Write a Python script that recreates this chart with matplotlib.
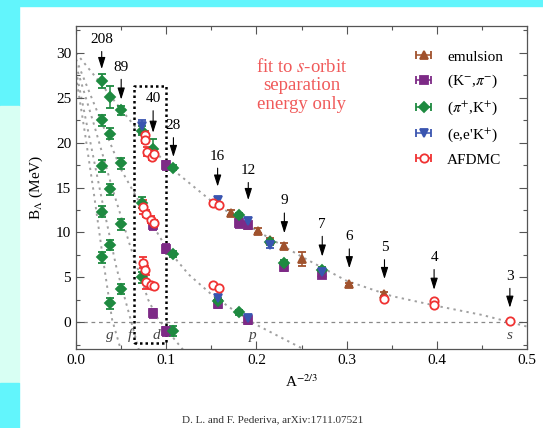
import numpy as np
import matplotlib
matplotlib.use("Agg")
import matplotlib.pyplot as plt
from matplotlib.patches import Rectangle

plt.rcParams["font.family"] = ["Liberation Serif", "DejaVu Serif"]
plt.rcParams["mathtext.fontset"] = "stix"

# ---- data ----
emul_x = [0.172, 0.191, 0.202, 0.215, 0.231, 0.250, 0.273, 0.303, 0.342]
emul_y = [12.2, 10.8, 10.2, 9.1, 8.5, 7.0, 5.5, 4.2, 3.1]
emul_e = [0.3, 0.3, 0.3, 0.3, 0.3, 0.8, 0.3, 0.2, 0.2]

kpi_x = [0.0997, 0.0997, 0.0997, 0.0855, 0.0855, 0.157, 0.181, 0.191, 0.191, 0.231, 0.273]
kpi_y = [17.5, 8.2, -1.0, 1.0, 10.8, 2.0, 11.0, 10.8, 0.2, 6.1, 5.3]
kpi_e = [0.5, 0.5, 0.5, 0.5, 0.5, 0.4, 0.5, 0.4, 0.4, 0.4, 0.4]

pik_x = [0.0285, 0.0285, 0.0285, 0.0285, 0.0285,
         0.0373, 0.0373, 0.0373, 0.0373, 0.0373,
         0.0501, 0.0501, 0.0501, 0.0501,
         0.0728, 0.0728, 0.0728, 0.0855,
         0.108, 0.108, 0.108, 0.157, 0.181, 0.181, 0.215, 0.231, 0.273]
pik_y = [26.9, 22.5, 17.4, 12.3, 7.2,
         25.1, 21.0, 14.8, 8.6, 2.1,
         23.6, 17.7, 10.9, 3.7,
         21.3, 13.3, 5.0, 19.3,
         17.2, 7.6, -1.0, 2.4, 11.9, 1.1, 8.9, 6.6, 5.8]
pik_e = [0.8, 0.6, 0.7, 0.6, 0.6,
         1.2, 0.6, 0.6, 0.6, 0.6,
         0.5, 0.6, 0.6, 0.6,
         0.5, 0.6, 0.6, 1.1,
         0.3, 0.3, 0.6, 0.3, 0.3, 0.3, 0.3, 0.3, 0.3]

eek_x = [0.0728, 0.157, 0.157, 0.191, 0.191, 0.215, 0.273]
eek_y = [21.8, 13.6, 2.7, 11.3, 0.5, 8.6, 5.6]
eek_e = [0.7, 0.3, 0.3, 0.3, 0.3, 0.3, 0.3]

afd_x = [0.076, 0.076, 0.079, 0.084, 0.087,
         0.074, 0.078, 0.083, 0.086,
         0.0746, 0.076, 0.078, 0.083, 0.086,
         0.152, 0.158, 0.152, 0.158,
         0.342, 0.397, 0.397, 0.481]
afd_y = [20.9, 20.3, 19.0, 18.4, 18.7,
         12.8, 12.1, 11.4, 11.0,
         6.6, 5.8, 4.5, 4.1, 4.0,
         13.3, 13.0, 4.1, 3.8,
         2.6, 2.3, 1.9, 0.15]
afd_e = [0.4, 0.3, 0.5, 0.3, 0.3,
         0.8, 0.4, 0.4, 0.4,
         0.6, 0.4, 0.8, 0.3, 0.3,
         0.2, 0.2, 0.2, 0.2,
         0.1, 0.1, 0.1, 0.05]

# fitted curves
s_x = [0.0, 0.025, 0.05, 0.075, 0.1, 0.15, 0.2, 0.25, 0.3, 0.35, 0.4, 0.45, 0.5]
s_y = [30.0, 26.9, 23.7, 20.6, 17.6, 13.5, 10.2, 7.3, 4.6, 2.9, 1.8, 0.8, -0.5]
p_x = [0.0, 0.025, 0.05, 0.075, 0.1, 0.125, 0.15, 0.175, 0.2, 0.225, 0.25, 0.26]
p_y = [29.3, 23.1, 17.0, 12.5, 8.3, 5.3, 3.1, 1.3, -0.3, -1.6, -2.9, -3.4]
d_x = [0.0, 0.02, 0.04, 0.06, 0.08, 0.09, 0.1, 0.118, 0.125]
d_y = [28.6, 22.0, 15.0, 8.5, 2.5, 0.5, -0.8, -3.0, -3.8]
f_x = [0.0, 0.015, 0.03, 0.045, 0.06, 0.07]
f_y = [28.0, 20.5, 13.0, 6.0, 0.5, -3.2]
g_x = [0.0, 0.01, 0.02, 0.03, 0.04, 0.05]
g_y = [27.4, 21.0, 14.2, 7.0, 0.3, -3.2]
fit_x = [s_x, p_x, d_x, f_x, g_x]
fit_y = [s_y, p_y, d_y, f_y, g_y]
shell_names = ["s", "p", "d", "f", "g"]
shell_pos = [0.481, 0.196, 0.089, 0.060, 0.038]

nuc_labels = ["208", "89", "40", "28", "16", "12", "9", "7", "6", "5", "4", "3"]
nuc_x = [0.0285, 0.0501, 0.0855, 0.108, 0.157, 0.191, 0.231, 0.273, 0.303, 0.342, 0.397, 0.481]
nuc_label_y = [31.5, 28.4, 24.9, 21.9, 18.5, 16.9, 13.5, 10.9, 9.5, 8.3, 7.2, 5.1]
nuc_tip_y = [28.2, 24.8, 21.1, 18.4, 15.1, 13.6, 9.9, 7.3, 6.0, 4.8, 3.6, 1.6]

# ---- figure ----
fig = plt.figure(figsize=(5.43, 4.28), dpi=100)
fig.patches.append(Rectangle((0, 1 - 6 / 428), 1, 6 / 428, transform=fig.transFigure,
                             color="#62f5fc", zorder=0))
fig.patches.append(Rectangle((0, 1 - 106 / 428), 19 / 543, 106 / 428, transform=fig.transFigure,
                             color="#62f5fc", zorder=0))
fig.patches.append(Rectangle((0, 45 / 428), 19 / 543, 277 / 428, transform=fig.transFigure,
                             color="#d8fff3", zorder=0))
fig.patches.append(Rectangle((0, 0), 19 / 543, 45 / 428, transform=fig.transFigure,
                             color="#62f5fc", zorder=0))

ax = fig.add_axes([76 / 543, 1 - 349 / 428, 451 / 543, 323 / 428])

for xs, ys in zip(fit_x, fit_y):
    ax.plot(xs, ys, color="#a0a0a0", ls=(0, (1.2, 2.2)), lw=1.4, zorder=1)
ax.axhline(0, color="#888888", ls=(0, (3, 3)), lw=0.9, zorder=1)

# dotted box around A=40
ax.plot([0.0643, 0.0997, 0.0997, 0.0643, 0.0643], [-2.3, -2.3, 26.3, 26.3, -2.3],
        color="black", ls=(0, (1, 1.2)), lw=1.8, zorder=2)

series = [
    (emul_x, emul_y, emul_e, "^", "#a0522d", "full", "emulsion"),
    (kpi_x, kpi_y, kpi_e, "s", "#7d2a86", "full", r"(K$^{-}$,$\pi^{-}$)"),
    (pik_x, pik_y, pik_e, "D", "#1e8a40", "full", r"($\pi^{+}$,K$^{+}$)"),
    (eek_x, eek_y, eek_e, "v", "#3a55b0", "full", r"(e,e'K$^{+}$)"),
    (afd_x, afd_y, afd_e, "o", "#f03232", "none", "AFDMC"),
]
handles = []
for xs, ys, es, mk, col, fill, lab in series:
    ms = 6 if mk != "D" else 5.5
    mfc = col if fill == "full" else "white"
    ax.errorbar(xs, ys, yerr=es, fmt=mk, color=col, mfc=mfc, mec=col, ms=ms,
                capsize=3, elinewidth=1.1, capthick=1.1, mew=1.3, zorder=3)
    h = ax.errorbar([np.nan], [np.nan], xerr=[1], fmt=mk, color=col, mfc=mfc, mec=col,
                    ms=ms, capsize=3, elinewidth=1.1, capthick=1.1, mew=1.3, label=lab)
    handles.append(h)

for lab, x, ly, ty in zip(nuc_labels, nuc_x, nuc_label_y, nuc_tip_y):
    ax.annotate(lab, xy=(x, ty), xytext=(x, ly), ha="center", va="center", fontsize=11,
                arrowprops=dict(arrowstyle="-|>,head_length=0.7,head_width=0.22",
                                mutation_scale=10, color="black", lw=0.8,
                                shrinkA=2, shrinkB=0), zorder=4)

for name, x in zip(shell_names, shell_pos):
    ax.text(x, -1.5, name, ha="center", va="center", fontsize=11, style="italic",
            color="#444444")

ax.text(0.25, 26.4, "fit to $s$-orbit\nseparation\nenergy only", ha="center", va="center",
        fontsize=13.5, color="#f05a5a", linespacing=1.1)

leg = ax.legend(handles=handles, loc="upper right", bbox_to_anchor=(0.978, 0.968),
                frameon=False, fontsize=11, handlelength=1.9, labelspacing=0.6,
                handletextpad=0.6)

ax.set_xlim(0.0, 0.5)
ax.set_ylim(-3, 33)
ax.set_xticks([0.0, 0.1, 0.2, 0.3, 0.4, 0.5])
ax.set_xticks([0.05, 0.15, 0.25, 0.35, 0.45], minor=True)
ax.set_yticks([0, 5, 10, 15, 20, 25, 30])
ax.set_yticks(np.arange(-2.5, 33, 5), minor=True)
ax.xaxis.set_major_formatter(matplotlib.ticker.FormatStrFormatter("%.1f"))
ax.tick_params(direction="in", which="both", top=True, right=True, labelsize=11,
               width=0.8, color="#555555")
ax.tick_params(which="major", length=6)
ax.tick_params(which="minor", length=3)
for sp in ax.spines.values():
    sp.set_color("#555555")
    sp.set_linewidth(0.9)

ax.set_xlabel(r"A$^{-2/3}$", fontsize=11, labelpad=5)
ax.set_ylabel(r"B$_{\Lambda}$ (MeV)", fontsize=11, labelpad=8)

fig.text(273 / 543, 1 - 420 / 428, "D. L. and F. Pederiva, arXiv:1711.07521",
         ha="center", va="center", fontsize=8, color="#333333")

fig.savefig("out.png", dpi=100, facecolor="white")
